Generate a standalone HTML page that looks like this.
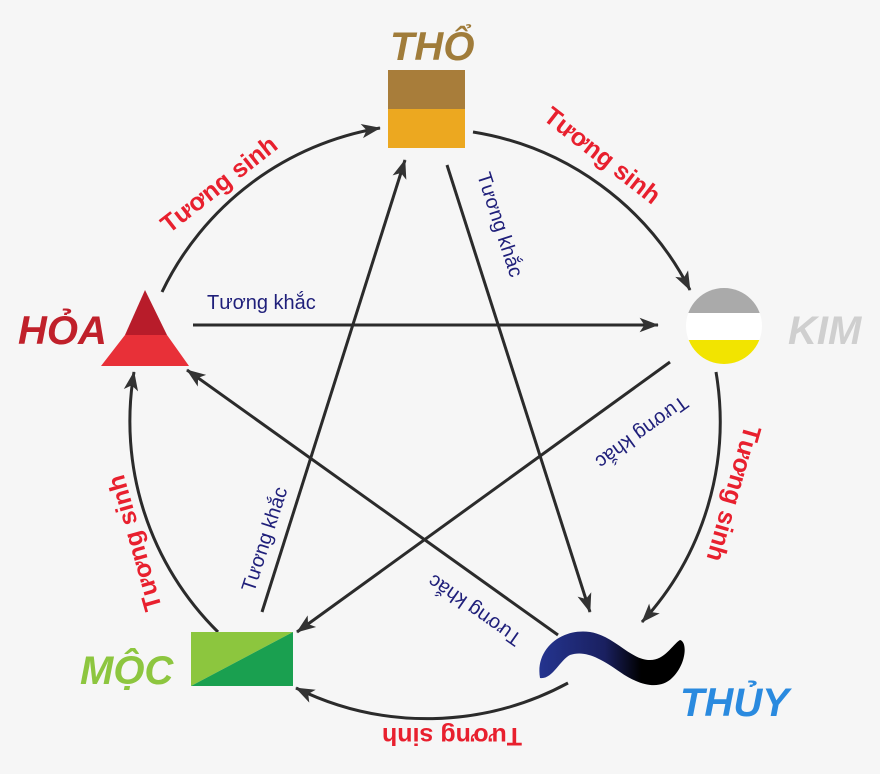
<!DOCTYPE html>
<html><head><meta charset="utf-8"><style>
html,body{margin:0;padding:0;background:#f6f6f6;}
svg{display:block;}
.s{font-family:"Liberation Sans",sans-serif;font-weight:bold;font-size:25px;fill:#e8202e;}
.k{font-family:"Liberation Sans",sans-serif;font-size:20px;fill:#1f1f7a;}
.L{font-family:"Liberation Sans",sans-serif;font-weight:bold;font-style:italic;font-size:40px;}
</style></head><body>
<svg width="880" height="774" viewBox="0 0 880 774" xmlns="http://www.w3.org/2000/svg">
<defs>
<marker id="a" viewBox="0 0 10 10" refX="9" refY="5" markerWidth="8" markerHeight="8" markerUnits="userSpaceOnUse" orient="auto" style="overflow:visible">
<path d="M-14,-4 L10,5 L-14,14 L-8,5 Z" fill="#333"/>
</marker>
<linearGradient id="w" x1="0" x2="1" y1="0" y2="0">
<stop offset="0" stop-color="#24348f"/><stop offset="0.45" stop-color="#1a2060"/><stop offset="0.7" stop-color="#000"/><stop offset="1" stop-color="#000"/>
</linearGradient>
</defs>
<rect width="880" height="774" fill="#f6f6f6"/>
<g fill="none" stroke="#2b2b2b" stroke-width="3" marker-end="url(#a)">
<path d="M162,292 A296,296 0 0 1 380,128"/>
<path d="M473,132 A296,296 0 0 1 690,290"/>
<path d="M716,372 A296,296 0 0 1 642,622"/>
<path d="M568,683 A296,296 0 0 1 296,688"/>
<path d="M218,632 A296,296 0 0 1 134,372"/>
<path d="M193,325 L658,325"/>
<path d="M262,612 L405,160"/>
<path d="M447,165 L590,612"/>
<path d="M670,362 L297,632"/>
<path d="M558,635 L187,370"/>
</g>
<rect x="388" y="70" width="77" height="39" fill="#a87d3a"/>
<rect x="388" y="109" width="77" height="39" fill="#eca820"/>
<text class="L" x="390" y="60" fill="#a07c3a">THỔ</text>
<clipPath id="c"><circle cx="724" cy="326" r="38"/></clipPath>
<g clip-path="url(#c)">
<rect x="680" y="286" width="90" height="27" fill="#aaaaaa"/>
<rect x="680" y="313" width="90" height="27" fill="#ffffff"/>
<rect x="680" y="340" width="90" height="30" fill="#f2e400"/>
</g>
<text class="L" x="788" y="344" fill="#cfcfcf">KIM</text>
<polygon points="145,290 125,335 167,335" fill="#b81c2a"/>
<polygon points="125,335 167,335 189,366 101,366" fill="#e83038"/>
<text class="L" x="18" y="344" fill="#c0202a">HỎA</text>
<polygon points="191,632 293,632 191,686" fill="#8cc63e"/>
<polygon points="293,632 293,686 191,686" fill="#1aa050"/>
<text class="L" x="80" y="684" fill="#8dc63f">MỘC</text>
<path d="M540,678 C535,650 560,628 590,632 C615,636 630,660 650,660 C665,660 672,645 680,640 C688,642 686,665 672,678 C660,690 640,686 620,672 C600,658 585,650 570,655 C560,660 552,680 540,678 Z" fill="url(#w)"/>
<text class="L" x="680" y="716" fill="#2a8adf" font-style="normal">THỦY</text>
<text class="s" transform="translate(169,234) rotate(-38)">Tương sinh</text>
<text class="s" transform="translate(542,119) rotate(38)">Tương sinh</text>
<text class="s" transform="translate(745,424) rotate(106)">Tương sinh</text>
<text class="s" transform="translate(522,728) rotate(180)">Tương sinh</text>
<text class="s" transform="translate(162,608) rotate(-106)">Tương sinh</text>
<text class="k" x="207" y="309">Tương khắc</text>
<text class="k" transform="translate(477,175) rotate(72)">Tương khắc</text>
<text class="k" transform="translate(254,593) rotate(-72)">Tương khắc</text>
<text class="k" transform="translate(682,395) rotate(144)">Tương khắc</text>
<text class="k" transform="translate(523,636) rotate(215)">Tương khắc</text>
</svg>
</body></html>
